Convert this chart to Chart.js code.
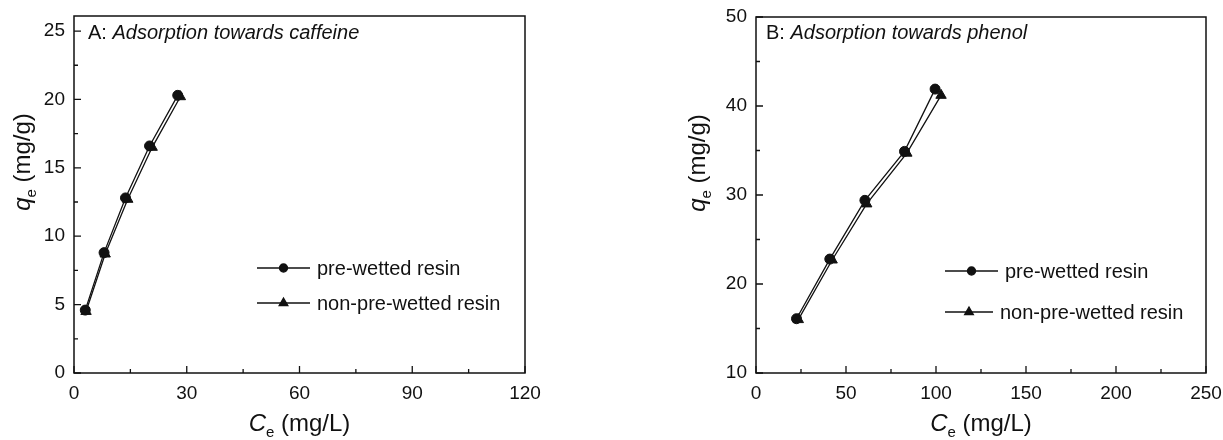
<!DOCTYPE html>
<html><head><meta charset="utf-8">
<script src="https://cdn.jsdelivr.net/npm/chart.js@4.4.1/dist/chart.umd.min.js"></script>
<style>
html,body{margin:0;padding:0;background:#fff;width:1223px;height:440px;overflow:hidden;}
.box{position:absolute;top:0;height:440px;}
#wa{left:0;width:600px;} #wb{left:611px;width:612px;}
canvas{display:block}
</style></head><body>
<div class="box" id="wa"><canvas id="ca" width="600" height="440"></canvas></div>
<div class="box" id="wb"><canvas id="cb" width="612" height="440"></canvas></div>
<script>
// ---------- data ----------
const seriesNames = ['pre-wetted resin', 'non-pre-wetted resin'];

// Panel A: caffeine
const aPreX = [3.0, 8.0, 13.7, 20.1, 27.6];
const aPreY = [4.6, 8.8, 12.8, 16.6, 20.3];
const aNonX = [3.2, 8.3, 14.3, 20.8, 28.3];
const aNonY = [4.5, 8.7, 12.7, 16.5, 20.2];
const aXTicks = [0, 30, 60, 90, 120];
const aXMinor = [15, 45, 75, 105];
const aYTicks = [0, 5, 10, 15, 20, 25];
const aYMinor = [2.5, 7.5, 12.5, 17.5, 22.5];

// Panel B: phenol
const bPreX = [22.5, 41.0, 60.5, 82.5, 99.5];
const bPreY = [16.1, 22.8, 29.4, 34.9, 41.9];
const bNonX = [23.5, 42.3, 61.5, 83.8, 102.8];
const bNonY = [16.0, 22.7, 29.0, 34.7, 41.2];
const bXTicks = [0, 50, 100, 150, 200, 250];
const bXMinor = [25, 75, 125, 175, 225];
const bYTicks = [10, 20, 30, 40, 50];
const bYMinor = [15, 25, 35, 45];

// ---------- drawing helpers ----------
const FONT = '"Liberation Sans", Arial, Helvetica, sans-serif';
const INK = '#111';

function fontStr(p) { return (p.italic ? 'italic ' : '') + p.size + 'px ' + FONT; }
function partsWidth(ctx, parts) {
  let w = 0;
  for (const p of parts) { ctx.font = fontStr(p); w += ctx.measureText(p.t).width; }
  return w;
}
function drawParts(ctx, parts, x, y, align) {
  ctx.save();
  ctx.fillStyle = INK;
  ctx.textBaseline = 'alphabetic';
  ctx.textAlign = 'left';
  let cx = x;
  if (align === 'center') cx = x - partsWidth(ctx, parts) / 2;
  for (const p of parts) {
    ctx.font = fontStr(p);
    ctx.fillText(p.t, cx, y + (p.dy || 0));
    cx += ctx.measureText(p.t).width;
  }
  ctx.restore();
}

const decorPlugin = {
  id: 'decor',
  afterDraw(chart, args, o) {
    const ctx = chart.ctx;
    const a = chart.chartArea;
    const xs = chart.scales.x, ys = chart.scales.y;
    ctx.save();
    // frame
    ctx.strokeStyle = INK;
    ctx.lineWidth = 1.5;
    ctx.strokeRect(a.left, a.top, a.right - a.left, a.bottom - a.top);
    // inward ticks
    ctx.lineWidth = 1.3;
    ctx.beginPath();
    for (const v of o.xMajor) { const px = xs.getPixelForValue(v); ctx.moveTo(px, a.bottom); ctx.lineTo(px, a.bottom - 7); }
    for (const v of o.xMinor) { const px = xs.getPixelForValue(v); ctx.moveTo(px, a.bottom); ctx.lineTo(px, a.bottom - 4); }
    for (const v of o.yMajor) { const py = ys.getPixelForValue(v); ctx.moveTo(a.left, py); ctx.lineTo(a.left + 7, py); }
    for (const v of o.yMinor) { const py = ys.getPixelForValue(v); ctx.moveTo(a.left, py); ctx.lineTo(a.left + 4, py); }
    ctx.stroke();
    ctx.restore();

    // panel title
    drawParts(ctx, o.title, a.left + o.titleDx, o.titleY, 'left');
    // x axis title
    drawParts(ctx, [
      { t: 'C', italic: true, size: 24 },
      { t: 'e', size: 15, dy: 6 },
      { t: ' (mg/L)', size: 24 }
    ], (a.left + a.right) / 2, o.xTitleY, 'center');
    // y axis title (rotated)
    ctx.save();
    ctx.translate(o.yTitleX, o.yTitleY);
    ctx.rotate(-Math.PI / 2);
    drawParts(ctx, [
      { t: 'q', italic: true, size: 24 },
      { t: 'e', size: 15, dy: 6 },
      { t: ' (mg/g)', size: 24 }
    ], 0, 8, 'center');
    ctx.restore();

    // legend
    chart.data.datasets.forEach((ds, i) => {
      const r = o.legend[i];
      ctx.save();
      ctx.strokeStyle = INK;
      ctx.lineWidth = 1.3;
      ctx.beginPath();
      ctx.moveTo(r.x1, r.y); ctx.lineTo(r.x2, r.y);
      ctx.stroke();
      ctx.fillStyle = INK;
      Chart.helpers.drawPoint(ctx, { pointStyle: ds.pointStyle, radius: ds.pointStyle === 'triangle' ? 5 : 4, rotation: 0, borderWidth: 1 }, (r.x1 + r.x2) / 2, r.y);
      ctx.restore();
      drawParts(ctx, [{ t: ds.label, size: 20 }], r.x2 + 7, r.y + 7, 'left');
    });
  }
};

function makeChart(id, c) {
  const tickFont = { family: FONT, size: 19 };
  return new Chart(document.getElementById(id), {
    type: 'scatter',
    plugins: [decorPlugin],
    data: {
      datasets: [
        {
          label: seriesNames[0],
          data: c.preX.map((x, i) => ({ x: x, y: c.preY[i] })),
          showLine: true, borderColor: INK, backgroundColor: INK, borderWidth: 1.3,
          pointStyle: 'circle', pointRadius: 5, pointHoverRadius: 5, pointBorderWidth: 1
        },
        {
          label: seriesNames[1],
          data: c.nonX.map((x, i) => ({ x: x, y: c.nonY[i] })),
          showLine: true, borderColor: INK, backgroundColor: INK, borderWidth: 1.3,
          pointStyle: 'triangle', pointRadius: 6, pointHoverRadius: 6, pointBorderWidth: 1
        }
      ]
    },
    options: {
      responsive: false,
      devicePixelRatio: 1,
      animation: false,
      events: [],
      layout: { padding: c.padding },
      plugins: {
        legend: { display: false },
        tooltip: { enabled: false },
        decor: c.decor
      },
      scales: {
        x: {
          type: 'linear', min: c.xMin, max: c.xMax,
          grid: { display: false, drawTicks: false },
          border: { display: false },
          ticks: { font: tickFont, color: INK, padding: 9, maxRotation: 0 },
          afterBuildTicks: s => { s.ticks = c.xTicks.map(v => ({ value: v })); },
          afterFit: s => { s.height = 67; s.paddingLeft = 0; s.paddingRight = 0; }
        },
        y: {
          type: 'linear', min: c.yMin, max: c.yMax,
          grid: { display: false, drawTicks: false },
          border: { display: false },
          ticks: { font: tickFont, color: INK, padding: 9 },
          afterBuildTicks: s => { s.ticks = c.yTicks.map(v => ({ value: v })); },
          afterFit: s => { s.width = c.yWidth; s.paddingTop = 0; s.paddingBottom = 0; }
        }
      }
    }
  });
}

makeChart('ca', {
  preX: aPreX, preY: aPreY, nonX: aNonX, nonY: aNonY,
  xMin: 0, xMax: 120, yMin: 0, yMax: 26.1,
  xTicks: aXTicks, yTicks: aYTicks,
  yWidth: 74,
  padding: { left: 0, top: 16, right: 75, bottom: 0 },
  decor: {
    xMajor: aXTicks, xMinor: aXMinor, yMajor: aYTicks, yMinor: aYMinor,
    title: [{ t: 'A: ', size: 20 }, { t: 'Adsorption towards caffeine', italic: true, size: 20 }],
    titleDx: 14, titleY: 39,
    xTitleY: 431, yTitleX: 22, yTitleY: 162,
    legend: [
      { x1: 257, x2: 310, y: 268 },
      { x1: 257, x2: 310, y: 303 }
    ]
  }
});

makeChart('cb', {
  preX: bPreX, preY: bPreY, nonX: bNonX, nonY: bNonY,
  xMin: 0, xMax: 250, yMin: 10, yMax: 50,
  xTicks: bXTicks, yTicks: bYTicks,
  yWidth: 145,
  padding: { left: 0, top: 17, right: 17, bottom: 0 },
  decor: {
    xMajor: bXTicks, xMinor: bXMinor, yMajor: bYTicks, yMinor: bYMinor,
    title: [{ t: 'B: ', size: 20 }, { t: 'Adsorption towards phenol', italic: true, size: 20 }],
    titleDx: 10, titleY: 39,
    xTitleY: 431, yTitleX: 86, yTitleY: 163,
    legend: [
      { x1: 334, x2: 387, y: 271 },
      { x1: 334, x2: 382, y: 312 }
    ]
  }
});
</script>
</body></html>
